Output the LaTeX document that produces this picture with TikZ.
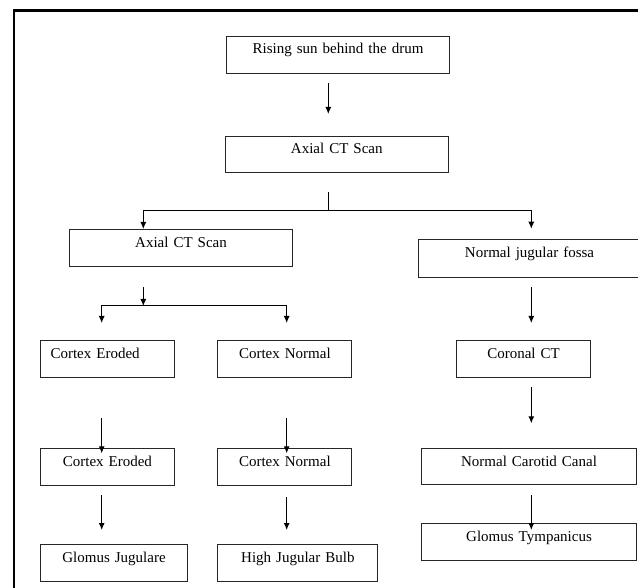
\documentclass[tikz,border=0pt]{standalone}
\usepackage{fontspec}
\setmainfont{Liberation Serif}
\usetikzlibrary{arrows.meta}
\newcommand\mybox[6]{%
  \pgfmathsetmacro\bw{#4-#2}%
  \pgfmathsetmacro\bd{#5-#3-17.5}%
  \node[box, text width=\bw pt, text depth=\bd pt] (#1) at (#2,#3) {#6};}
\begin{document}
\begin{tikzpicture}[x=1pt,y=-1pt,
  box/.style={draw=black!85, line width=1.1pt, rectangle, inner sep=0pt, anchor=north west,
    align=center, text height=17.5pt, font=\fontsize{15}{18}\selectfont},
  arr/.style={line width=1pt, -{Latex[length=7pt,width=6pt]}},
  ln/.style={line width=1pt}]
\useasboundingbox (0,0) rectangle (638,588);
\clip (0,0) rectangle (638,588);
\fill[white] (0,0) rectangle (638,588);
% frame
\draw[line width=2.4pt] (14,600) -- (14,10.7) -- (660,10.7);
% boxes
\mybox{b1}{226}{35.7}{449}{73.3}{Rising sun behind the drum}
\mybox{b2}{224.7}{135.7}{447.7}{172.3}{Axial CT Scan}
\mybox{b3}{69}{229}{292}{266}{Axial CT Scan}
\mybox{b4}{418}{239.3}{640}{276.7}{Normal jugular fossa}
\node[box, align=left, text width=134.3pt, text depth=19.2pt] (ce1) at (39.7,340) {\hspace*{10.3pt}Cortex Eroded};
\mybox{cn1}{217.3}{340}{351.3}{376.7}{Cortex Normal}
\mybox{cor}{455.7}{340}{590.3}{376.7}{Coronal CT}
\mybox{ce2}{39.7}{448.3}{174}{485}{Cortex Eroded}
\mybox{cn2}{217.3}{448.3}{351.3}{485}{Cortex Normal}
\mybox{ncc}{420.7}{448.3}{636.3}{484.3}{Normal Carotid Canal}
\mybox{gj}{39.7}{544.3}{187.3}{581}{Glomus Jugulare}
\mybox{hjb}{217.3}{544.3}{377.3}{581}{High Jugular Bulb}
\mybox{gt}{420.7}{523.3}{636.3}{560}{Glomus Tympanicus}
% connector coordinates
\coordinate (a1s) at (328.3,83);   \coordinate (a1e) at (328.3,114);
\coordinate (s1)  at (328.3,192);  \coordinate (j1)  at (328.3,210.7);
\coordinate (t3)  at (143.3,229);  \coordinate (t4)  at (531.3,228.7);
\coordinate (s2)  at (143.3,287);  \coordinate (j2)  at (143.3,306);
\coordinate (t5)  at (101.7,323);  \coordinate (t6)  at (286.7,323);
\coordinate (a4s) at (531.3,287);  \coordinate (a4e) at (531.3,323);
\coordinate (a5s) at (101.7,418);  \coordinate (a5e) at (101.7,453.3);
\coordinate (a6s) at (286.7,418);  \coordinate (a6e) at (286.7,453.3);
\coordinate (a7s) at (531.3,386.7);\coordinate (a7e) at (531.3,423.3);
\coordinate (a8s) at (101.7,495);  \coordinate (a8e) at (101.7,530);
\coordinate (a9s) at (286.7,497);  \coordinate (a9e) at (286.7,530);
\coordinate (a10s) at (531.3,495); \coordinate (a10e) at (531.3,530);
% connectors
\draw[arr] (a1s) -- (a1e);
\draw[ln] (s1) -- (j1);
\draw[arr] (j1) -| (t3);
\draw[arr] (j1) -| (t4);
\draw[arr] (s2) -- (j2);
\draw[arr] (j2) -| (t5);
\draw[arr] (j2) -| (t6);
\draw[arr] (a4s) -- (a4e);
\draw[arr] (a5s) -- (a5e);
\draw[arr] (a6s) -- (a6e);
\draw[arr] (a7s) -- (a7e);
\draw[arr] (a8s) -- (a8e);
\draw[arr] (a9s) -- (a9e);
\draw[arr] (a10s) -- (a10e);
\end{tikzpicture}
\end{document}
